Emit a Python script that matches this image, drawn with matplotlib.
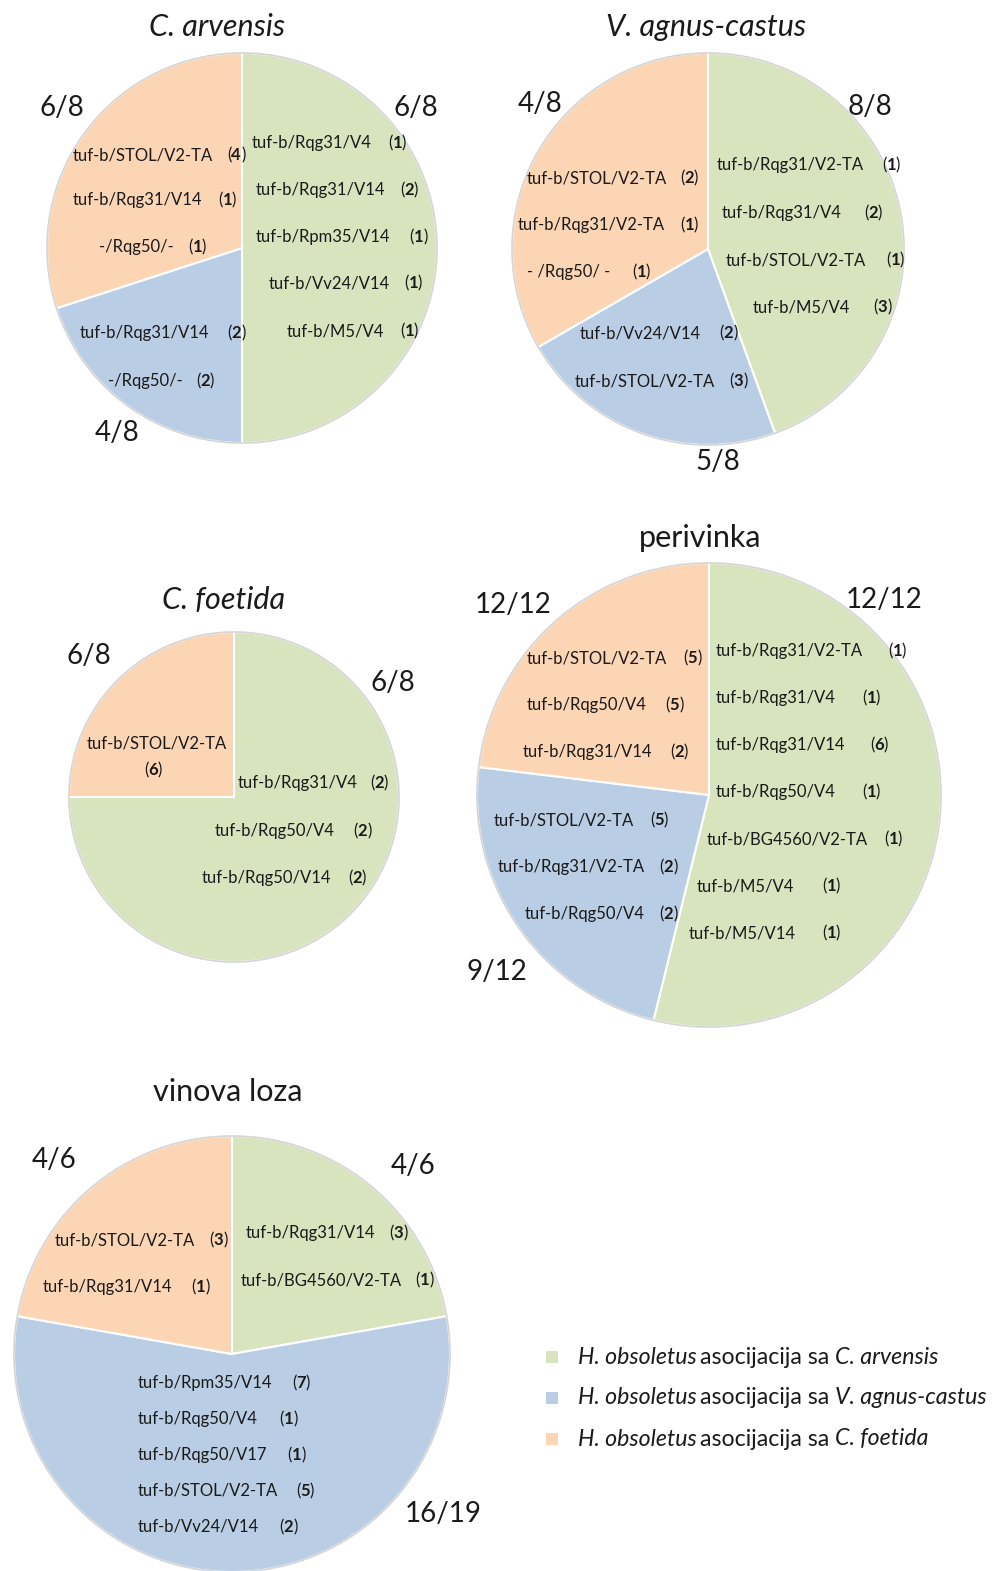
import matplotlib
matplotlib.use("Agg")
import matplotlib.pyplot as plt
from matplotlib.patches import Circle, Rectangle

plt.rcParams['font.family'] = ['Lato', 'DejaVu Sans']

W, H = 992, 1571

# colours of the three associations (green / blue / orange)
slice_colors = ['#d7e4bd', '#b9cde5', '#fcd5b5']
legend_species = ['C. arvensis', 'V. agnus-castus', 'C. foetida']

# --- data: genotypes (names + number of samples) per association ---
arv_names = [["tuf-b/Rqg31/V4", "tuf-b/Rqg31/V14", "tuf-b/Rpm35/V14", "tuf-b/Vv24/V14", "tuf-b/M5/V4"],
             ["tuf-b/Rqg31/V14", "-/Rqg50/-"],
             ["tuf-b/STOL/V2-TA", "tuf-b/Rqg31/V14", "-/Rqg50/-"]]
arv_counts = [[1, 2, 1, 1, 1], [2, 2], [4, 1, 1]]
arv_totals = ["6/8", "4/8", "6/8"]

vac_names = [["tuf-b/Rqg31/V2-TA", "tuf-b/Rqg31/V4", "tuf-b/STOL/V2-TA", "tuf-b/M5/V4"],
             ["tuf-b/Vv24/V14", "tuf-b/STOL/V2-TA"],
             ["tuf-b/STOL/V2-TA", "tuf-b/Rqg31/V2-TA", "- /Rqg50/ -"]]
vac_counts = [[1, 2, 1, 3], [2, 3], [2, 1, 1]]
vac_totals = ["8/8", "5/8", "4/8"]

cfo_names = [["tuf-b/Rqg31/V4", "tuf-b/Rqg50/V4", "tuf-b/Rqg50/V14"],
             [],
             ["tuf-b/STOL/V2-TA"]]
cfo_counts = [[2, 2, 2], [], [6]]
cfo_totals = ["6/8", "", "6/8"]

per_names = [["tuf-b/Rqg31/V2-TA", "tuf-b/Rqg31/V4", "tuf-b/Rqg31/V14", "tuf-b/Rqg50/V4",
              "tuf-b/BG4560/V2-TA", "tuf-b/M5/V4", "tuf-b/M5/V14"],
             ["tuf-b/STOL/V2-TA", "tuf-b/Rqg31/V2-TA", "tuf-b/Rqg50/V4"],
             ["tuf-b/STOL/V2-TA", "tuf-b/Rqg50/V4", "tuf-b/Rqg31/V14"]]
per_counts = [[1, 1, 6, 1, 1, 1, 1], [5, 2, 2], [5, 5, 2]]
per_totals = ["12/12", "9/12", "12/12"]

vin_names = [["tuf-b/Rqg31/V14", "tuf-b/BG4560/V2-TA"],
             ["tuf-b/Rpm35/V14", "tuf-b/Rqg50/V4", "tuf-b/Rqg50/V17", "tuf-b/STOL/V2-TA", "tuf-b/Vv24/V14"],
             ["tuf-b/STOL/V2-TA", "tuf-b/Rqg31/V14"]]
vin_counts = [[3, 1], [7, 1, 1, 5, 2], [3, 1]]
vin_totals = ["4/6", "16/19", "4/6"]

# --- layout (pixel coordinates, y from top); rows = (name x, count x, y) ---
pies = [
    dict(title="C. arvensis", italic=True, title_xy=(217, 27), center=(242, 248), r=195,
         names=arv_names, counts=arv_counts, totals=arv_totals,
         total_xy=[(416, 108), (117, 433), (62, 108)],
         rows=[[(252, 388, 143), (256, 400, 190), (256, 409, 237), (269, 404, 283), (287, 400, 331)],
               [(80, 227, 333), (108, 196, 381)],
               [(73, 227, 155), (73, 218, 200), (99, 188, 247)]]),
    dict(title="V. agnus-castus", italic=True, title_xy=(706, 27), center=(708, 249), r=196,
         names=vac_names, counts=vac_counts, totals=vac_totals,
         total_xy=[(870, 107), (718, 462), (540, 104)],
         rows=[[(717, 882, 165), (722, 864, 213), (726, 886, 260), (753, 873, 307)],
               [(580, 719, 333), (575, 729, 381)],
               [(527, 680, 178), (518, 680, 225), (527, 632, 272)]]),
    dict(title="C. foetida", italic=True, title_xy=(224, 600), center=(234, 797), r=165,
         names=cfo_names, counts=cfo_counts, totals=cfo_totals,
         total_xy=[(393, 683), None, (89, 656)],
         rows=[[(238, 370, 783), (215, 353, 831), (202, 348, 878)],
               [],
               [(87, 143, 743)]],
         count_below=[False, False, True]),
    dict(title="perivinka", italic=False, title_xy=(700, 538), center=(709, 795), r=232,
         names=per_names, counts=per_counts, totals=per_totals,
         total_xy=[(884, 600), (497, 972), (513, 605)],
         rows=[[(716, 888, 651), (716, 862, 698), (716, 870, 745), (716, 862, 792),
                (707, 884, 839), (697, 822, 886), (689, 822, 933)],
               [(494, 650, 820), (498, 659, 867), (525, 659, 914)],
               [(527, 683, 658), (527, 665, 705), (523, 670, 752)]]),
    dict(title="vinova loza", italic=False, title_xy=(228, 1092), center=(232, 1354), r=218,
         names=vin_names, counts=vin_counts, totals=vin_totals,
         total_xy=[(413, 1166), (443, 1514), (54, 1160)],
         rows=[[(246, 389, 1233), (241, 415, 1280)],
               [(138, 292, 1383), (138, 279, 1419), (138, 287, 1455), (138, 296, 1491), (138, 279, 1527)],
               [(55, 209, 1240), (43, 191, 1287)]]),
]

fig = plt.figure(figsize=(W / 100, H / 100), dpi=100)
ax = fig.add_axes([0, 0, 1, 1])
ax.set_xlim(0, W)
ax.set_ylim(0, H)
renderer = fig.canvas.get_renderer()

label_fs = 12
total_fs = 20
txt_color = '#1a1a1a'


def put(x, y, s, **kw):
    # left-aligned text at (x, y from top); returns right edge in px
    t = ax.text(x, H - y, s, ha='left', va='center', color=txt_color, **kw)
    bb = t.get_window_extent(renderer=renderer)
    return x + bb.width


def put_count(x, y, n, ha='left'):
    parts = [("(", 'normal'), (str(n), 'bold'), (")", 'normal')]
    if ha == 'center':
        tw = 0
        for s, fw in parts:
            t = ax.text(0, 0, s, fontsize=label_fs, fontweight=fw)
            tw += t.get_window_extent(renderer=renderer).width
            t.remove()
        x = x - tw / 2
    for s, fw in parts:
        x = put(x, y, s, fontsize=label_fs, fontweight=fw)


for p in pies:
    cx, cy = p['center']
    # slice size = number of genotypes found in each association
    sizes = [len(n) for n in p['names']]
    vals = [s for s in sizes if s > 0]
    cols = [c for s, c in zip(sizes, slice_colors) if s > 0]
    ax.pie(vals, colors=cols, startangle=90, counterclock=False,
           center=(cx, H - cy), radius=p['r'],
           wedgeprops=dict(edgecolor='white', linewidth=1.5))
    ax.add_patch(Circle((cx, H - cy), p['r'], fill=False, edgecolor='#d4d4d4', linewidth=1.2))

    tx, ty = p['title_xy']
    ax.text(tx, H - ty, p['title'], ha='center', va='center', fontsize=22,
            style='italic' if p['italic'] else 'normal', color=txt_color)

    below = p.get('count_below', [False, False, False])
    for k in range(3):
        if p['total_xy'][k] is not None and p['totals'][k]:
            x, y = p['total_xy'][k]
            ax.text(x, H - y, p['totals'][k], ha='center', va='center',
                    fontsize=total_fs, color=txt_color)
        for (nx, kx, y), name, cnt in zip(p['rows'][k], p['names'][k], p['counts'][k]):
            put(nx, y, name, fontsize=label_fs)
            if below[k]:
                put_count(153, y + 27, cnt, ha='center')
            else:
                put_count(kx, y, cnt)

# legend
leg_y = [1357, 1398, 1439]
leg_fs = 16.7
for i, sp in enumerate(legend_species):
    y = leg_y[i]
    ax.add_patch(Rectangle((546, H - y - 6), 12, 12, facecolor=slice_colors[i], edgecolor='none'))
    x = put(578, y, "H. obsoletus", fontsize=leg_fs, style='italic')
    x = put(x + 3, y, "asocijacija sa ", fontsize=leg_fs)
    put(x, y, sp, fontsize=leg_fs, style='italic')

ax.set_xlim(0, W)
ax.set_ylim(0, H)
ax.set_aspect('equal')
ax.axis('off')

fig.savefig("out.png", dpi=100, facecolor='white')
